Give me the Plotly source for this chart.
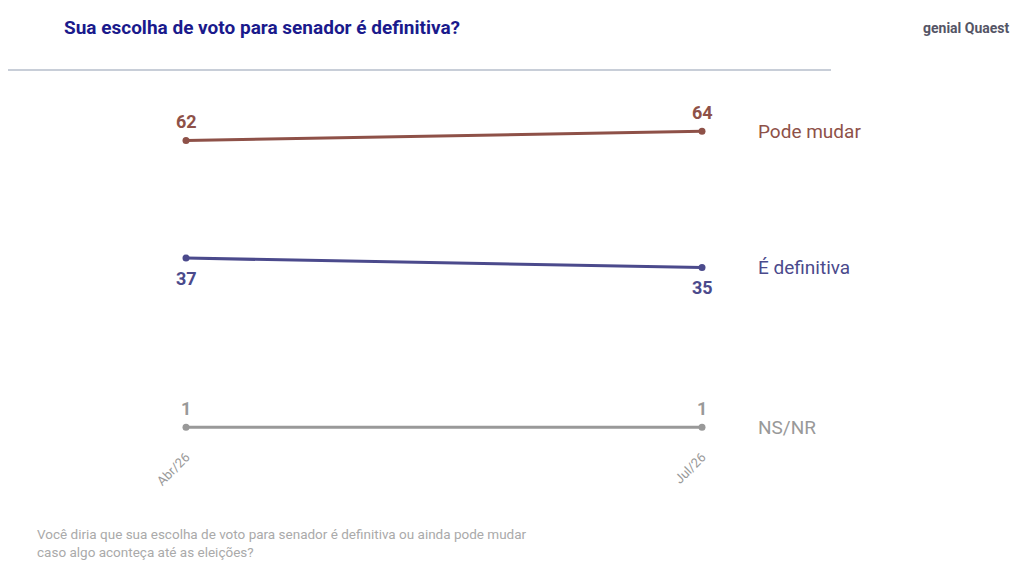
import plotly.graph_objects as go

periods = ["Abr/26", "Jul/26"]
pode_mudar = [62, 64]
definitiva = [37, 35]
nsnr = [1, 1]
series = [("Pode mudar", pode_mudar, "#8E5148", "above"),
          ("É definitiva", definitiva, "#4B4A8C", "below"),
          ("NS/NR", nsnr, "#999999", "above")]

fig = go.Figure()
xs = [0, 1]
for name, vals, col, pos in series:
    fig.add_trace(go.Scatter(x=xs, y=vals, mode="lines+markers", line=dict(color=col, width=3),
                             marker=dict(size=7, color=col), cliponaxis=False, showlegend=False))
    for x, v in zip(xs, vals):
        fig.add_annotation(x=x, y=v, text=f"<b>{v}</b>", showarrow=False,
                           yshift=19 if pos == "above" else -20, font=dict(size=18, color=col, family="Roboto"))
    fig.add_annotation(x=1, y=vals[-1], xref="x", text=name, showarrow=False, xanchor="left",
                       xshift=54, font=dict(size=19, color=col, family="Roboto"))

fig.update_layout(
    width=1024, height=572, plot_bgcolor="white", paper_bgcolor="white",
    margin=dict(l=178, r=330, t=95, b=148),
    xaxis=dict(range=[0, 1], tickvals=xs, ticktext=periods, tickangle=-45, showgrid=True,
               gridcolor="#e8e8e8", zeroline=False, showline=False, ticklabelstandoff=14,
               tickfont=dict(size=13, color="#999999", family="Roboto"), ticks="", ticklen=0),
    yaxis=dict(range=[0, 70], visible=False),
    font=dict(family="Roboto"),
)
fig.add_annotation(xref="paper", yref="paper", x=-0.24, y=1.228, xanchor="left", yanchor="middle",
                   text="<b>Sua escolha de voto para senador é definitiva?</b>", showarrow=False,
                   font=dict(size=19, color="#1a1a8c", family="Roboto"))
fig.add_annotation(xref="paper", yref="paper", x=-0.293, y=-0.28, xanchor="left", yanchor="top",
                   align="left", showarrow=False,
                   text="Você diria que sua escolha de voto para senador é definitiva ou ainda pode mudar<br>caso algo aconteça até as eleições?",
                   font=dict(size=13.5, color="#aaaaaa", family="Roboto"))
fig.add_shape(type="line", xref="paper", yref="paper", x0=-0.4, x1=1.25, y0=1.1, y1=1.1,
              line=dict(color="#c8ced8", width=2))
fig.add_annotation(xref="paper", yref="paper", x=1.6, y=1.228, xanchor="right", yanchor="middle",
                   showarrow=False, text="<b>genial Quaest</b>", font=dict(size=14, color="#555566"))
fig.write_html("out.html")
